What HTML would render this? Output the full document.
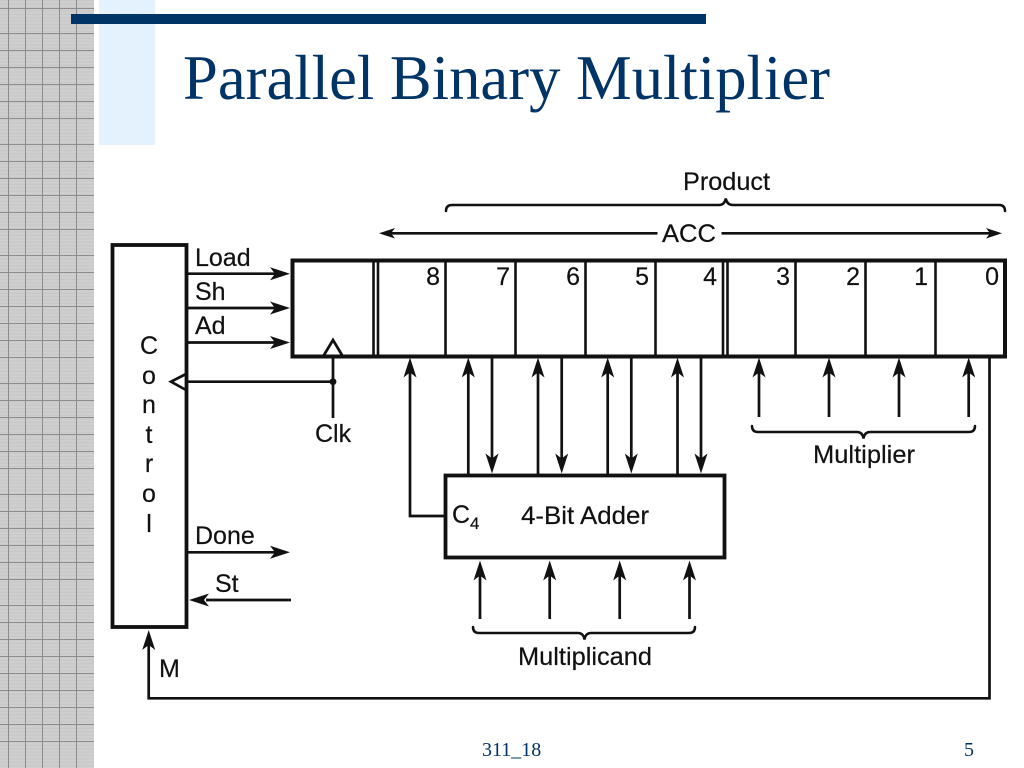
<!DOCTYPE html>
<html>
<head>
<meta charset="utf-8">
<title>Parallel Binary Multiplier</title>
<style>
html,body{margin:0;padding:0;background:#fff;width:1024px;height:768px;overflow:hidden}
svg{display:block;position:absolute;left:0;top:0}
.t{font-family:"Liberation Sans",sans-serif;font-size:25px;fill:#111;stroke:#111;stroke-width:.2}
.s{font-family:"Liberation Serif",serif;fill:#003366}
.l{fill:none;stroke:#111;stroke-width:2.7}
.b{fill:none;stroke:#111;stroke-width:2.5;stroke-linecap:round}
.h{fill:#111}
</style>
</head>
<body>
<svg width="1024" height="768" viewBox="0 0 1024 768" xmlns="http://www.w3.org/2000/svg">
<defs>
<pattern id="st" width="10" height="3.4" patternUnits="userSpaceOnUse">
<rect width="10" height="3.4" fill="#cfcfcf"/>
<rect width="10" height="1.4" fill="#c8c8c8"/>
</pattern>
<path id="u" d="M0,0 L6.5,20 L0,15 L-6.5,20Z"/>
<path id="d" d="M0,0 L6.5,-20 L0,-15 L-6.5,-20Z"/>
<path id="r" d="M0,0 L-20,-6.5 L-15,0 L-20,6.5Z"/>
<path id="f" d="M0,0 L20,-6.5 L15,0 L20,6.5Z"/>
</defs>

<!-- side texture -->
<rect x="0" y="0" width="94" height="768" fill="url(#st)"/>
<path d="M8.5,0V768M25.5,0V768M42.5,0V768M59.5,0V768M76.5,0V768" stroke="#8c8c8c" stroke-width="1" fill="none"/>
<path d="M0,8.5H94M0,33.5H94M0,50.5H94M0,67.5H94M0,84.5H94M0,101.5H94M0,118.5H94
M0,144.5H94M0,161.5H94M0,178.5H94M0,195.5H94M0,212.5H94M0,229.5H94
M0,255.5H94M0,272.5H94M0,289.5H94M0,306.5H94M0,323.5H94M0,340.5H94M0,357.5H94
M0,383.5H94M0,400.5H94M0,417.5H94M0,434.5H94M0,451.5H94M0,468.5H94
M0,494.5H94M0,511.5H94M0,528.5H94M0,545.5H94M0,562.5H94M0,579.5H94
M0,605.5H94M0,622.5H94M0,639.5H94M0,656.5H94M0,673.5H94M0,690.5H94M0,707.5H94M0,724.5H94M0,741.5H94" stroke="#8c8c8c" stroke-width="1" fill="none"/>

<!-- header decoration -->
<rect x="99" y="0" width="56" height="145" fill="#e3f2fd"/>
<rect x="71" y="14" width="635" height="10" fill="#003366"/>
<text class="s" x="183" y="99" font-size="64" textLength="647" lengthAdjust="spacingAndGlyphs">Parallel Binary Multiplier</text>

<!-- control box -->
<rect x="112.5" y="245" width="74" height="382" fill="none" stroke="#111" stroke-width="3.8"/>
<g class="t" text-anchor="middle">
<text x="149" y="354">C</text>
<text x="149" y="384">o</text>
<text x="149" y="413">n</text>
<text x="149" y="443">t</text>
<text x="149" y="472">r</text>
<text x="149" y="502">o</text>
<text x="149" y="532">l</text>
</g>

<!-- register -->
<rect x="292.5" y="260.5" width="712.5" height="96" fill="none" stroke="#111" stroke-width="4"/>
<path d="M373.5,260V356M378,260V356M445.5,260V356M515.5,260V356M585.5,260V356M655.5,260V356M723,260V356M727.5,260V356M795.5,260V356M865.5,260V356M935.5,260V356" fill="none" stroke="#111" stroke-width="2.6"/>
<g class="t" text-anchor="end">
<text x="440" y="285">8</text>
<text x="510" y="285">7</text>
<text x="580" y="285">6</text>
<text x="649" y="285">5</text>
<text x="717" y="285">4</text>
<text x="790" y="285">3</text>
<text x="860" y="285">2</text>
<text x="928" y="285">1</text>
<text x="999" y="285">0</text>
</g>

<!-- control signals -->
<path class="l" d="M187,273.7H275M187,308H275M187,342.5H275M187,552.3H275M206,600H291"/>
<use class="h" href="#r" x="290" y="273.7"/>
<use class="h" href="#r" x="290" y="308"/>
<use class="h" href="#r" x="290" y="342.5"/>
<use class="h" href="#r" x="290" y="552.3"/>
<use class="h" href="#f" x="189" y="600"/>
<text class="t" x="195" y="266">Load</text>
<text class="t" x="195" y="300">Sh</text>
<text class="t" x="195" y="334">Ad</text>
<text class="t" x="195" y="544">Done</text>
<text class="t" x="215" y="592">St</text>

<!-- clock -->
<path class="l" d="M187,381.7H333M333,356V418"/>
<path d="M324,355 L333,340 L342,355" fill="none" stroke="#111" stroke-width="2.7"/>
<path d="M186,374 L171,381.7 L186,390" fill="none" stroke="#111" stroke-width="2.7"/>
<circle class="h" cx="333" cy="381.7" r="3.4"/>
<text class="t" x="315" y="442">Clk</text>

<!-- product brace -->
<text class="t" x="683" y="190" textLength="87" lengthAdjust="spacingAndGlyphs">Product</text>
<path class="b" d="M446,211 Q446,205 452,205 H719 Q724.5,205 725.8,198.5 Q727,205 733,205 H999 Q1005,205 1005,211"/>

<!-- ACC -->
<path class="l" d="M390,233.3H657.5M721.5,233.3H990"/>
<path class="h" d="M379,233.3 L395,228 L391,233.3 L395,238.5Z"/>
<path class="h" d="M1002,233.3 L986,228 L990,233.3 L986,238.5Z"/>
<text class="t" x="662" y="242" textLength="54" lengthAdjust="spacingAndGlyphs">ACC</text>

<!-- adder -->
<rect x="445.5" y="475.5" width="279" height="82" fill="none" stroke="#111" stroke-width="3.8"/>
<text class="t" x="452" y="523">C</text>
<text class="t" x="470" y="529" style="font-size:17px">4</text>
<text class="t" x="521" y="524" textLength="128" lengthAdjust="spacingAndGlyphs">4-Bit Adder</text>

<!-- adder up / down -->
<path class="l" d="M445,516H410V372M468.3,372V475M538,372V475M607.7,372V475M677.5,372V475"/>
<use class="h" href="#u" x="410" y="357.5"/>
<use class="h" href="#u" x="468.3" y="357.5"/>
<use class="h" href="#u" x="538" y="357.5"/>
<use class="h" href="#u" x="607.7" y="357.5"/>
<use class="h" href="#u" x="677.5" y="357.5"/>
<path class="l" d="M492,357V459M561.7,357V459M631.3,357V459M701,357V459"/>
<use class="h" href="#d" x="492" y="473.5"/>
<use class="h" href="#d" x="561.7" y="473.5"/>
<use class="h" href="#d" x="631.3" y="473.5"/>
<use class="h" href="#d" x="701" y="473.5"/>

<!-- multiplicand -->
<path class="l" d="M480,575V619M549.7,575V619M619.7,575V619M689.5,575V619"/>
<use class="h" href="#u" x="480" y="560.5"/>
<use class="h" href="#u" x="549.7" y="560.5"/>
<use class="h" href="#u" x="619.7" y="560.5"/>
<use class="h" href="#u" x="689.5" y="560.5"/>
<path class="b" d="M473,627 Q473,633 479,633 H578 Q583.5,633 584.5,639.5 Q585.5,633 591,633 H689 Q695,633 695,627"/>
<text class="t" x="518" y="665" textLength="134" lengthAdjust="spacingAndGlyphs">Multiplicand</text>

<!-- multiplier -->
<path class="l" d="M759,372V417M829,372V417M899,372V417M968.7,372V417"/>
<use class="h" href="#u" x="759" y="357.5"/>
<use class="h" href="#u" x="829" y="357.5"/>
<use class="h" href="#u" x="899" y="357.5"/>
<use class="h" href="#u" x="968.7" y="357.5"/>
<path class="b" d="M752,426 Q752,432 758,432 H857 Q862.5,432 863.5,438.5 Q864.5,432 870,432 H969 Q975,432 975,426"/>
<text class="t" x="813" y="463" textLength="102" lengthAdjust="spacingAndGlyphs">Multiplier</text>

<!-- M feedback -->
<path class="l" d="M989.5,357V698.3H148.7V645"/>
<use class="h" href="#u" x="148.7" y="630"/>
<text class="t" x="159" y="677">M</text>

<!-- footer -->
<text class="s" x="482" y="756" font-size="20">311_18</text>
<text class="s" x="964" y="756" font-size="20">5</text>
</svg>
</body>
</html>
